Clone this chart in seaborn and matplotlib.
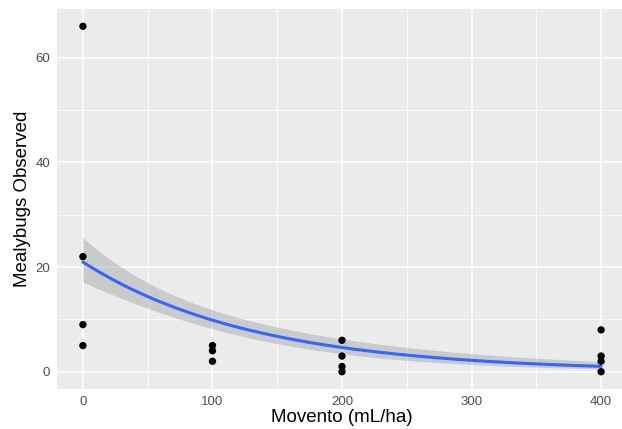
import numpy as np
import pandas as pd
import matplotlib
matplotlib.use("Agg")
import matplotlib.pyplot as plt
import seaborn as sns
from matplotlib.ticker import MultipleLocator

# Data
dose = [0, 0, 0, 0, 100, 100, 100, 200, 200, 200, 200, 400, 400, 400, 400]
mealybugs = [66, 22, 9, 5, 5, 4, 2, 6, 3, 1, 0, 8, 3, 2, 0]
x_ticks = [0, 100, 200, 300, 400]
y_ticks = [0, 20, 40, 60]

df = pd.DataFrame({"Movento (mL/ha)": dose, "Mealybugs Observed": mealybugs})

# Poisson GLM (log link) fit via IRLS, like geom_smooth(method="glm", family=poisson)
X = np.column_stack([np.ones(len(dose)), np.asarray(dose, float)])
y = np.asarray(mealybugs, float)
beta = np.array([np.log(y.mean()), 0.0])
for _ in range(100):
    eta = X @ beta
    mu = np.exp(eta)
    z = eta + (y - mu) / mu
    W = mu
    XtW = X.T * W
    new = np.linalg.solve(XtW @ X, XtW @ z)
    if np.max(np.abs(new - beta)) < 1e-12:
        beta = new
        break
    beta = new
mu = np.exp(X @ beta)
cov = np.linalg.inv((X.T * mu) @ X)
xs = np.linspace(0, 400, 80)
Xn = np.column_stack([np.ones_like(xs), xs])
eta_n = Xn @ beta
se = np.sqrt(np.einsum("ij,jk,ik->i", Xn, cov, Xn))
fit = pd.DataFrame({"x": xs, "fit": np.exp(eta_n),
                    "lo": np.exp(eta_n - 1.959964 * se),
                    "hi": np.exp(eta_n + 1.959964 * se)})

sns.set_style("white")
plt.rcParams["font.family"] = ["Liberation Sans", "DejaVu Sans"]

W_px, H_px = 622, 429
fig = plt.figure(figsize=(W_px / 100, H_px / 100), dpi=100)
left, right, top, bottom = 57, 627, 9, 389
ax = fig.add_axes([left / W_px, 1 - bottom / H_px, (right - left) / W_px, (bottom - top) / H_px])
ax.set_facecolor("#EBEBEB")
for s in ax.spines.values():
    s.set_visible(False)

ax.set_xlim(-20, 420)
ax.set_ylim(-3.3, 69.3)
ax.xaxis.set_minor_locator(MultipleLocator(50))
ax.yaxis.set_minor_locator(MultipleLocator(10))
ax.set_xticks(x_ticks)
ax.set_yticks(y_ticks)
ax.grid(which="major", color="white", linewidth=1.1)
ax.grid(which="minor", color="white", linewidth=0.55)
ax.set_axisbelow(True)
ax.tick_params(which="major", length=3, width=0.8, color="#333333",
               labelcolor="#4D4D4D", labelsize=9.5, pad=2)
ax.tick_params(which="minor", length=0)

ax.fill_between(fit["x"], fit["lo"], fit["hi"], color="#999999", alpha=0.4, linewidth=0, zorder=2)
sns.lineplot(data=fit, x="x", y="fit", ax=ax, color="#3366FF", linewidth=2.2, zorder=3)
sns.scatterplot(data=df, x="Movento (mL/ha)", y="Mealybugs Observed", ax=ax,
                color="black", s=28, edgecolor="none", zorder=4)

ax.set_xlabel("Movento (mL/ha)", fontsize=13.5, color="black", labelpad=1)
ax.set_ylabel("Mealybugs Observed", fontsize=13.5, color="black", labelpad=3)

fig.savefig("out.png", dpi=100)
